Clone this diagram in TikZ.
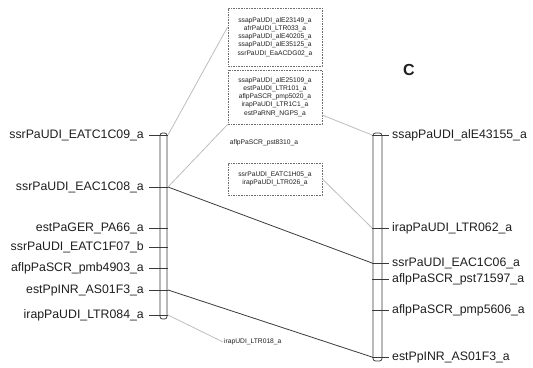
\documentclass[tikz,border=0pt]{standalone}
\usepackage{fontspec}
\usetikzlibrary{calc}
\setmainfont{Liberation Sans}
\definecolor{ink}{HTML}{1E1E1E}
\definecolor{chrom}{HTML}{3A3A3A}
\definecolor{faint}{HTML}{BDBDBD}
\definecolor{boxline}{HTML}{6E6E6E}
\begin{document}
\begin{tikzpicture}[x=1pt,y=-1pt,
  lab/.style={inner sep=0pt,text=ink,font=\fontsize{12.3}{14}\selectfont},
  small/.style={inner sep=0pt,text=ink,font=\fontsize{6.7}{8.2}\selectfont,align=center},
  grpbox/.style={draw=boxline,line width=0.8pt,dash pattern=on 1.6pt off 1pt,minimum width=94pt,inner sep=0pt},
  chromo/.style={draw=chrom,line width=0.8pt,rounded corners=2.5pt},
  tick/.style={draw=chrom,line width=0.9pt},
  link/.style={draw=chrom,line width=0.8pt},
  flink/.style={draw=faint,line width=0.8pt}]
\useasboundingbox (0,0) rectangle (533,367);
% chromosomes
\draw[chromo] (160,133) rectangle (167,319);
\draw[chromo] (373,133) rectangle (382,361);
% left labels
\node[lab,anchor=east] (l1) at (144,135) {ssrPaUDI\_EATC1C09\_a};
\node[lab,anchor=east] (l2) at (144,187) {ssrPaUDI\_EAC1C08\_a};
\node[lab,anchor=east] (l3) at (144,228) {estPaGER\_PA66\_a};
\node[lab,anchor=east] (l4) at (144,247) {ssrPaUDI\_EATC1F07\_b};
\node[lab,anchor=east] (l5) at (144,268) {aflpPaSCR\_pmb4903\_a};
\node[lab,anchor=east] (l6) at (144,290) {estPpINR\_AS01F3\_a};
\node[lab,anchor=east] (l7) at (144,315) {irapPaUDI\_LTR084\_a};
\foreach \i/\y in {1/135,2/187,3/228,4/247,5/268,6/290,7/315}{
  \coordinate (L\i) at (168,\y);
  \draw[tick] ([xshift=5pt]l\i.east) -- (L\i);
}
% right labels
\node[lab,anchor=west] (r1) at (392,135) {ssapPaUDI\_alE43155\_a};
\node[lab,anchor=west] (r2) at (392,228) {irapPaUDI\_LTR062\_a};
\node[lab,anchor=west] (r3) at (392,263) {ssrPaUDI\_EAC1C06\_a};
\node[lab,anchor=west] (r4) at (392,279) {aflpPaSCR\_pst71597\_a};
\node[lab,anchor=west] (r5) at (392,310) {aflpPaSCR\_pmp5606\_a};
\node[lab,anchor=west] (r6) at (392,357) {estPpINR\_AS01F3\_a};
\foreach \i/\y in {1/135,2/228,3/263,4/279,5/310,6/357}{
  \coordinate (R\i) at (372,\y);
  \draw[tick] (R\i) -- ([xshift=-3pt]r\i.west);
}
% boxes
\node[grpbox,minimum height=58pt] (b1) at (275,37) {};
\node[small] (t1) at (b1.center) {ssapPaUDI\_alE23149\_a\\afrPaUDI\_LTR033\_a\\ssapPaUDI\_alE40205\_a\\ssapPaUDI\_alE35125\_a\\ssrPaUDI\_EaACDG02\_a};
\node[grpbox,minimum height=54pt] (b2) at (275,97) {};
\node[small] (t2) at (b2.center) {ssapPaUDI\_alE25109\_a\\estPaUDI\_LTR101\_a\\aflpPaSCR\_pmp5020\_a\\irapPaUDI\_LTR1C1\_a\\estPaRNR\_NGPS\_a};
\node[small] (m1) at (264,143) {aflpPaSCR\_pst8310\_a};
\node[grpbox,minimum height=32pt] (b3) at (275,179) {};
\node[small] (t3) at (b3.center) {ssrPaUDI\_EATC1H05\_a\\irapPaUDI\_LTR026\_a};
\node[small,anchor=west] (m2) at (224,342) {irapUDI\_LTR018\_a};
% panel letter
\node[inner sep=0pt,text=ink,font=\fontsize{16}{18}\selectfont\bfseries] (C) at (409,70) {C};
% connectors
\draw[link] (L2) -- (R3);
\draw[link] (L6) -- (R6);
\draw[flink] (L1) -- ($(b1.north west)!0.33!(b1.south west)$);
\draw[flink] (L2) -- (b2.south west);
\draw[flink] ($(b2.north east)!0.83!(b2.south east)$) -- (R1);
\draw[flink] (b3.east) -- (R2);
\draw[flink] (L7) -- ([xshift=-1pt]m2.west);
\end{tikzpicture}
\end{document}
